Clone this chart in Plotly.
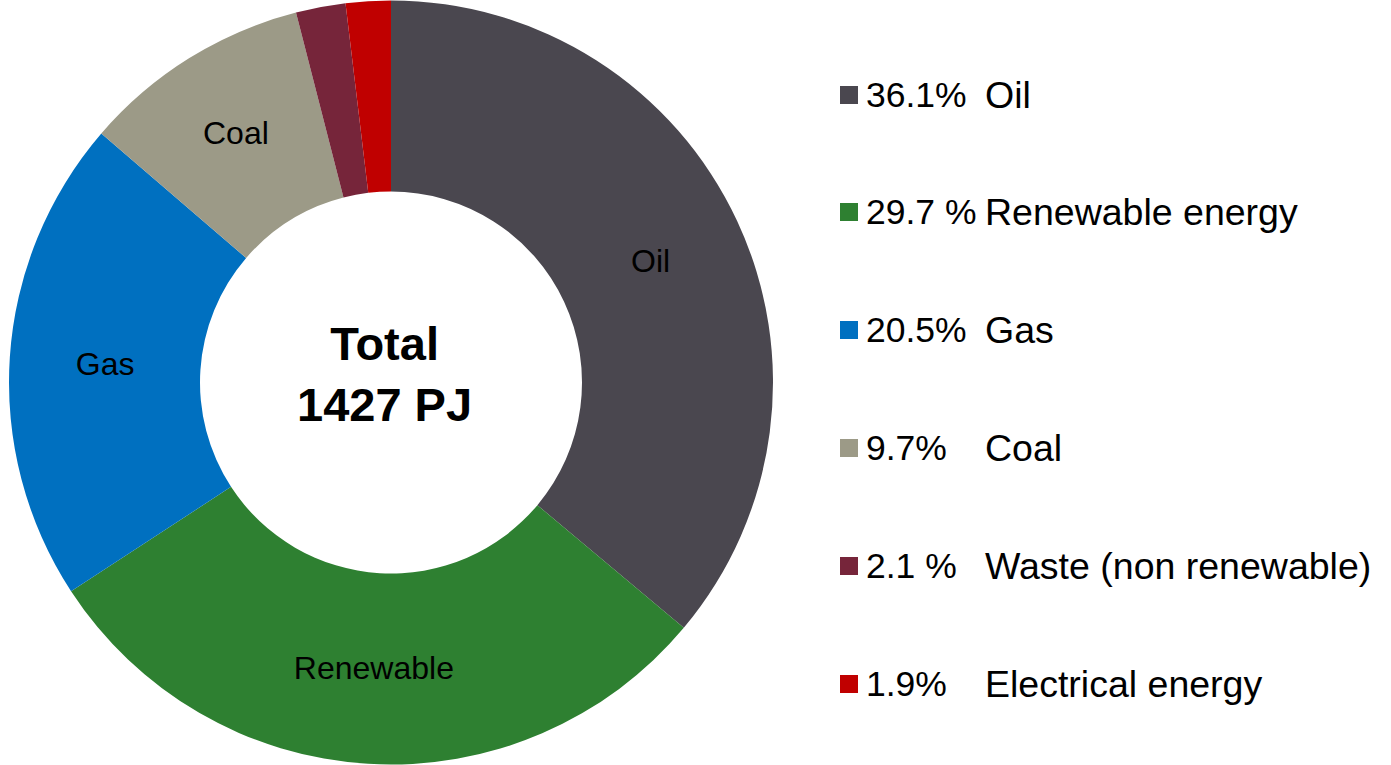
import plotly.graph_objects as go

categories = ["Oil", "Renewable energy", "Gas", "Coal", "Waste (non renewable)", "Electrical energy"]
values = [36.1, 29.7, 20.5, 9.7, 2.1, 1.9]
slice_labels = ["Oil", "Renewable", "Gas", "Coal", "", ""]
legend_pct = ["36.1%", "29.7 %", "20.5%", "9.7%", "2.1 %", "1.9%"]
legend_names = ["Oil", "Renewable energy", "Gas", "Coal", "Waste (non renewable)", "Electrical energy"]
colors = ["#4a474f", "#2e8031", "#0070c0", "#9c9a87", "#76253a", "#c00000"]
center_text = "<b>Total<br>1427 PJ</b>"

W, H = 1391, 765
FONT = "Liberation Sans, Arial, sans-serif"

fig = go.Figure()
fig.add_trace(go.Pie(
    labels=categories,
    values=values,
    text=slice_labels,
    textinfo="text",
    textposition="inside",
    insidetextorientation="horizontal",
    textfont=dict(family=FONT, size=32, color="black"),
    marker=dict(colors=colors, line=dict(width=0)),
    hole=0.5,
    sort=False,
    direction="clockwise",
    rotation=0,
    showlegend=False,
    hoverinfo="label+percent",
    domain=dict(x=[(391 - 382) / W, (391 + 382) / W], y=[0, 1]),
))

annotations = [dict(
    text=center_text, x=(391 - 7) / W, y=1 - 374 / H, xref="paper", yref="paper",
    showarrow=False, font=dict(family=FONT, size=47, color="black"),
    xanchor="center", yanchor="middle",
)]
shapes = []
row_y = [95, 212, 330, 448, 566, 684]
for pct, name, col, yy in zip(legend_pct, legend_names, colors, row_y):
    yp = 1 - yy / H
    shapes.append(dict(type="rect", xref="paper", yref="paper",
                       x0=840 / W, x1=858 / W, y0=1 - (yy + 9) / H, y1=1 - (yy - 9) / H,
                       fillcolor=col, line=dict(width=0)))
    annotations.append(dict(text=pct, x=864 / W, y=yp, xref="paper", yref="paper",
                            showarrow=False, xanchor="left", yanchor="middle",
                            font=dict(family=FONT, size=35.5, color="black")))
    annotations.append(dict(text=name, x=983 / W, y=yp, xref="paper", yref="paper",
                            showarrow=False, xanchor="left", yanchor="middle",
                            font=dict(family=FONT, size=37.5, color="black")))

fig.update_layout(
    width=W, height=H,
    margin=dict(l=0, r=0, t=0, b=0),
    paper_bgcolor="white", plot_bgcolor="white",
    annotations=annotations, shapes=shapes,
)
fig.write_html("out.html",
               config={"displayModeBar": False},
               post_script="document.body.style.margin='0';document.body.style.overflow='hidden';")
